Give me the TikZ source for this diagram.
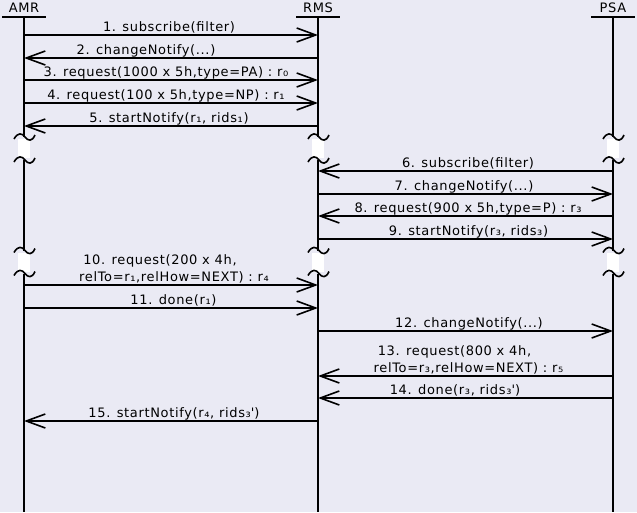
\documentclass[tikz,border=0pt]{standalone}
\usepackage{fontspec}
\setmainfont{DejaVu Sans}[LetterSpace=5]
\usetikzlibrary{arrows.meta}
\definecolor{bg}{RGB}{234,234,244}
\newcommand\lblfont{\fontsize{13}{15}\selectfont}
\newcommand\brkmark[2]{%
  \fill[white] (#1-6,#2+2) rectangle (#1+6,#2+21);
  \draw[brk] (#1-10,#2+2) .. controls (#1-6,#2-5) and (#1-2,#2-4) .. (#1+1,#2) .. controls (#1+4,#2+4) and (#1+8,#2+5) .. (#1+11,#2-2);
  \draw[brk] (#1-10,#2+25) .. controls (#1-6,#2+18) and (#1-2,#2+19) .. (#1+1,#2+23) .. controls (#1+4,#2+27) and (#1+8,#2+28) .. (#1+11,#2+21);}
\begin{document}
\begin{tikzpicture}[x=1pt,y=-1pt,
  lifeline/.style={line width=2pt},
  msg/.style={line width=1.6pt,-{Straight Barb[length=19pt,width=14pt]}},
  lbl/.style={anchor=base,inner sep=0pt,font=\lblfont},
  brk/.style={line width=1.6pt}]
\useasboundingbox[fill=bg] (0,0) rectangle (637,512);
% heads
\foreach \n/\x/\t in {amr/24/AMR, rms/318/RMS, psa/613/PSA} {
  \node[lbl] (h\n) at (\x,12.5) {\t};
  \coordinate (\n) at (\x,16.5);
  \draw[lifeline] (\x-22,16.5) -- (\x+22,16.5);
}
% rows
\foreach \i/\y in {1/35,2/58,3/80,4/103,5/126,6/171,7/194,8/216,9/239,10/285,11/308,12/331,13/376,14/398,15/421} {
  \coordinate (r\i) at (0,\y);
}
\coordinate (b1a) at (0,137);
\coordinate (b1b) at (0,160);
\coordinate (b2a) at (0,250.5);
\coordinate (b2b) at (0,273.5);
\coordinate (bot) at (0,512);
% lifelines
\foreach \n in {amr,rms,psa} {
  \draw[lifeline] (\n) -- (\n |- b1a);
  \draw[lifeline] (\n |- b1b) -- (\n |- b2a);
  \draw[lifeline] (\n |- b2b) -- (\n |- bot);
}
\foreach \x in {24,318,613} {
  \brkmark{\x}{137}
  \brkmark{\x}{250.5}
}
% messages
\draw[msg] (amr |- r1) -- (rms |- r1);
\draw[msg] (rms |- r2) -- (amr |- r2);
\draw[msg] (amr |- r3) -- (rms |- r3);
\draw[msg] (amr |- r4) -- (rms |- r4);
\draw[msg] (rms |- r5) -- (amr |- r5);
\draw[msg] (psa |- r6) -- (rms |- r6);
\draw[msg] (rms |- r7) -- (psa |- r7);
\draw[msg] (psa |- r8) -- (rms |- r8);
\draw[msg] (rms |- r9) -- (psa |- r9);
\draw[msg] (amr |- r10) -- (rms |- r10);
\draw[msg] (amr |- r11) -- (rms |- r11);
\draw[msg] (rms |- r12) -- (psa |- r12);
\draw[msg] (psa |- r13) -- (rms |- r13);
\draw[msg] (psa |- r14) -- (rms |- r14);
\draw[msg] (rms |- r15) -- (amr |- r15);
% labels
\node[lbl] (l1) at (169,31) {1. subscribe(filter)};
\node[lbl] (l2) at (146,54) {2. changeNotify(...)};
\node[lbl] (l3) at (166,76) {3. request(1000 x 5h,type=PA) : r₀};
\node[lbl] (l4) at (166,99) {4. request(100 x 5h,type=NP) : r₁};
\node[lbl] (l5) at (169,122) {5. startNotify(r₁, rids₁)};
\node[lbl] (l6) at (468,167) {6. subscribe(filter)};
\node[lbl] (l7) at (464,190) {7. changeNotify(...)};
\node[lbl] (l8) at (468,212) {8. request(900 x 5h,type=P) : r₃};
\node[lbl] (l9) at (468.5,235) {9. startNotify(r₃, rids₃)};
\node[lbl] (l10a) at (160,264) {10. request(200 x 4h,};
\node[lbl] (l10b) at (174,281) {relTo=r₁,relHow=NEXT) : r₄};
\node[lbl] (l11) at (173.5,304) {11. done(r₁)};
\node[lbl] (l12) at (469,327) {12. changeNotify(...)};
\node[lbl] (l13a) at (454.5,355) {13. request(800 x 4h,};
\node[lbl] (l13b) at (468.5,372) {relTo=r₃,relHow=NEXT) : r₅};
\node[lbl] (l14) at (455,394) {14. done(r₃, rids₃\textquotesingle)};
\node[lbl] (l15) at (174,417) {15. startNotify(r₄, rids₃\textquotesingle)};
\end{tikzpicture}
\end{document}
